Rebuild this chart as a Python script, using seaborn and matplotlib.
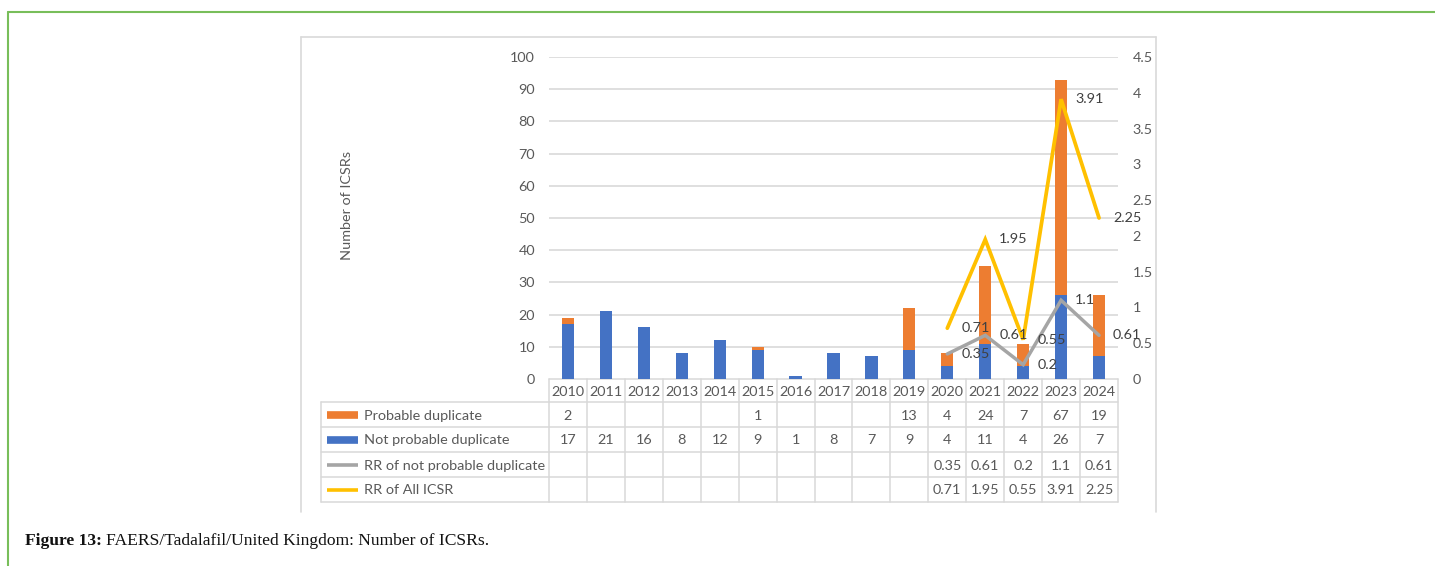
import numpy as np
import matplotlib
matplotlib.use("Agg")
import matplotlib.pyplot as plt
import matplotlib.transforms as mtransforms
import seaborn as sns

# ---- data ----
years = ["2010", "2011", "2012", "2013", "2014", "2015", "2016", "2017",
         "2018", "2019", "2020", "2021", "2022", "2023", "2024"]
probable_dup = [2, 0, 0, 0, 0, 1, 0, 0, 0, 13, 4, 24, 7, 67, 19]
not_probable_dup = [17, 21, 16, 8, 12, 9, 1, 8, 7, 9, 4, 11, 4, 26, 7]
rr_years = ["2020", "2021", "2022", "2023", "2024"]
rr_not_probable = [0.35, 0.61, 0.2, 1.1, 0.61]
rr_all = [0.71, 1.95, 0.55, 3.91, 2.25]
series_names = ["Probable duplicate", "Not probable duplicate",
                "RR of not probable duplicate", "RR of All ICSR"]
left_ticks = list(range(0, 101, 10))
right_ticks = [0, 0.5, 1, 1.5, 2, 2.5, 3, 3.5, 4, 4.5]
right_tick_labels = ["0", "0.5", "1", "1.5", "2", "2.5", "3", "3.5", "4", "4.5"]

ORANGE = "#ED7D31"
BLUE = "#4472C4"
GRAY = "#A5A5A5"
GOLD = "#FFC000"
TXT = "#595959"
GRID = "#D9D9D9"
FS = 10.4

sns.set_theme(style="white")
plt.rcParams["font.family"] = ["Lato", "DejaVu Sans"]

W, H = 1435, 566
fig = plt.figure(figsize=(W / 100, H / 100), dpi=100)

# full-figure pixel overlay for frame, table and caption
ov = fig.add_axes([0, 0, 1, 1], zorder=0)
ov.set_xlim(0, W)
ov.set_ylim(H, 0)
ov.axis("off")
ov.patch.set_visible(False)

# plot area
x0, x1, y_top, y_base = 549, 1118, 57, 379
ax = fig.add_axes([x0 / W, 1 - y_base / H, (x1 - x0) / W, (y_base - y_top) / H], zorder=2)
ax.patch.set_visible(False)

total = [p + n for p, n in zip(probable_dup, not_probable_dup)]
sns.barplot(x=years, y=total, color=ORANGE, saturation=1, width=0.32,
            linewidth=0, ax=ax, order=years)
sns.barplot(x=years, y=not_probable_dup, color=BLUE, saturation=1, width=0.32,
            linewidth=0, ax=ax, order=years)
ax.set_xlim(-0.5, len(years) - 0.5)
ax.set_ylim(0, 100)
ax.set_yticks(left_ticks)
ax.set_yticklabels([str(t) for t in left_ticks], color=TXT, fontsize=FS)
ax.tick_params(axis="y", length=0, pad=10)
ax.set_xticks([])
ax.set_xlabel("")
ax.set_ylabel("")
for t in left_ticks[1:]:
    ax.axhline(t, color=GRID, lw=1.2, zorder=0)
for s in ax.spines.values():
    s.set_visible(False)

ax2 = ax.twinx()
ax2.set_zorder(3)
ax2.patch.set_visible(False)
rr_x = [years.index(y) for y in rr_years]
sns.lineplot(x=rr_x, y=rr_not_probable, color=GRAY, lw=2.5, ax=ax2,
             solid_joinstyle="miter")
sns.lineplot(x=rr_x, y=rr_all, color=GOLD, lw=2.7, ax=ax2,
             solid_joinstyle="miter")
ax2.set_ylim(0, 4.5)
ax2.set_yticks(right_ticks)
ax2.set_yticklabels(right_tick_labels, color=TXT, fontsize=FS)
ax2.tick_params(axis="y", length=0, pad=10.5)
for s in ax2.spines.values():
    s.set_visible(False)
ax2.set_xlim(-0.5, len(years) - 0.5)

# data labels to the right of each line point
lbl_off = mtransforms.offset_copy(ax2.transData, fig=fig, x=14, y=0, units="dots")
for xs, vals in ((rr_x, rr_not_probable), (rr_x, rr_all)):
    for xv, v in zip(xs, vals):
        ax2.text(xv, v, f"{v:g}", transform=lbl_off, ha="left", va="center",
                 fontsize=FS, color="#404040", zorder=5)

# axis title
ov.text(347, 205, "Number of ICSRs", rotation=90, ha="center", va="center",
        fontsize=FS, color=TXT)

# ---- data table under the plot ----
bt = mtransforms.blended_transform_factory(ax.transData, ov.transData)
rows_y = [379, 402, 427, 452, 477, 502]
tcol_left = 321
lc = dict(color="#D9D9D9", lw=1.1, zorder=1)
n = len(years)
# horizontal rules over the year columns
for yy in rows_y:
    ov.plot([-0.5, n - 0.5], [yy, yy], transform=bt, **lc)
# horizontal rules under the legend column
for yy in rows_y[1:]:
    ov.plot([tcol_left, x0], [yy, yy], **lc)
# vertical rules
for i in range(n + 1):
    ov.plot([i - 0.5, i - 0.5], [rows_y[0], rows_y[-1]], transform=bt, **lc)
ov.plot([tcol_left, tcol_left], [rows_y[1], rows_y[-1]], **lc)

# header row: years
for i, yr in enumerate(years):
    ov.text(i, (rows_y[0] + rows_y[1]) / 2 + 1, yr, transform=bt, ha="center",
            va="center", fontsize=FS, color=TXT)

table_rows = [
    [str(v) if v else "" for v in probable_dup],
    [str(v) for v in not_probable_dup],
    [f"{rr_not_probable[rr_years.index(y)]:g}" if y in rr_years else "" for y in years],
    [f"{rr_all[rr_years.index(y)]:g}" if y in rr_years else "" for y in years],
]
key_styles = [(ORANGE, 5.5), (BLUE, 5.5), (GRAY, 2.6), (GOLD, 2.6)]
for r, (vals, name, (kc, kw)) in enumerate(zip(table_rows, series_names, key_styles)):
    yc = (rows_y[r + 1] + rows_y[r + 2]) / 2 + 1
    for i, v in enumerate(vals):
        if v:
            ov.text(i, yc, v, transform=bt, ha="center", va="center",
                    fontsize=FS, color=TXT)
    ov.plot([327, 358], [yc - 1, yc - 1], color=kc, lw=kw, solid_capstyle="butt")
    ov.text(364, yc, name, ha="left", va="center", fontsize=FS, color=TXT)

# chart frame
fc = dict(color="#D9D9D9", lw=1.2)
ov.plot([301, 1156], [37, 37], **fc)
ov.plot([301, 301], [37, 512], **fc)
ov.plot([1156, 1156], [37, 512], **fc)

# page frame
gc = dict(color="#78BE5A", lw=1.5)
ov.plot([8, W], [12, 12], **gc)
ov.plot([8, 8], [12, H], **gc)

# caption
cap1 = ov.text(25, 541, "Figure 13:", ha="left", va="center", fontsize=12.6,
               fontweight="bold", family="Liberation Serif", color="#111111")
fig.canvas.draw()
bb = cap1.get_window_extent(renderer=fig.canvas.get_renderer())
ov.text(25 + bb.width + 4, 541, "FAERS/Tadalafil/United Kingdom: Number of ICSRs.",
        ha="left", va="center", fontsize=12.6, family="Liberation Serif", color="#111111")

fig.savefig("out.png", dpi=100)
